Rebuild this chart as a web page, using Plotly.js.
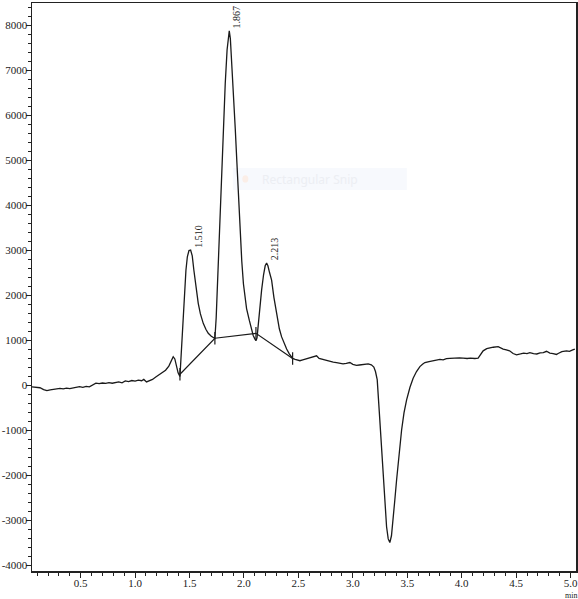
<!DOCTYPE html>
<html>
<head>
<meta charset="utf-8">
<script src="https://cdn.plot.ly/plotly-3.0.1.min.js"></script>
<style>html,body{margin:0;padding:0;background:#fff;}#chart{width:578px;height:599px;}</style>
</head>
<body>
<div id="chart"></div>
<script>
// Retention time (min) and detector signal
var times = [0.053,0.09,0.126,0.16,0.19,0.22,0.25,0.28,0.31,0.34,0.37,0.40,0.43,0.46,0.49,0.52,0.55,0.58,0.61,0.64,0.67,0.70,0.73,0.76,0.79,0.82,0.85,0.88,0.91,0.94,0.97,1.00,1.03,1.06,1.08,1.105,1.13,1.16,1.19,1.22,1.25,1.28,1.31,1.33,1.35,1.365,1.38,1.395,1.412,1.43,1.442,1.455,1.467,1.48,1.495,1.510,1.525,1.54,1.55,1.565,1.58,1.60,1.626,1.65,1.672,1.70,1.718,1.733,1.745,1.757,1.770,1.783,1.797,1.812,1.828,1.845,1.856,1.865,1.875,1.890,1.905,1.920,1.935,1.950,1.965,1.980,1.995,2.010,2.024,2.05,2.07,2.085,2.101,2.11,2.12,2.131,2.147,2.162,2.18,2.195,2.208,2.22,2.235,2.254,2.275,2.30,2.325,2.346,2.37,2.392,2.415,2.438,2.447,2.47,2.49,2.514,2.54,2.57,2.60,2.63,2.667,2.69,2.72,2.759,2.79,2.82,2.85,2.881,2.91,2.94,2.973,3.00,3.034,3.06,3.09,3.12,3.141,3.17,3.193,3.208,3.224,3.248,3.265,3.279,3.295,3.310,3.325,3.340,3.355,3.371,3.386,3.402,3.425,3.448,3.47,3.494,3.525,3.554,3.585,3.616,3.64,3.662,3.70,3.73,3.769,3.80,3.83,3.86,3.891,3.92,3.95,3.98,4.013,4.05,4.08,4.12,4.151,4.175,4.197,4.23,4.26,4.29,4.335,4.36,4.381,4.41,4.44,4.472,4.504,4.54,4.57,4.60,4.626,4.66,4.69,4.72,4.75,4.779,4.81,4.84,4.871,4.886,4.92,4.963,4.99,5.02,5.039];
var signal = [-40,-50,-60,-100,-125,-110,-95,-80,-75,-85,-70,-80,-60,-45,-35,-50,-30,-40,10,40,30,45,35,55,40,60,70,50,90,75,100,85,110,95,125,70,90,125,180,235,270,330,420,530,630,580,420,270,190,1000,1600,2100,2550,2850,2990,3000,2870,2550,2330,2050,1815,1580,1370,1240,1150,1085,1055,1035,1500,2300,3100,3900,4800,5800,6700,7450,7800,7870,7700,7100,6450,5700,4950,4150,3400,2750,2250,1900,1700,1430,1250,1100,1020,985,1050,1370,1750,2110,2450,2650,2710,2650,2500,2330,1950,1590,1250,1070,920,800,700,630,590,570,555,540,560,580,600,620,650,590,570,540,530,510,500,480,470,480,500,460,437,445,450,470,470,450,400,300,120,-780,-1500,-2110,-2700,-3150,-3420,-3500,-3350,-3000,-2550,-2110,-1500,-1000,-620,-330,-50,150,300,410,460,500,520,540,556,570,560,585,593,600,610,605,600,590,600,590,600,680,760,810,830,840,852,820,800,780,760,700,670,690,710,700,720,700,690,715,720,750,710,700,680,700,740,760,750,780,800];

// Integration baseline points
var baseTimes = [1.412, 1.733, 2.11, 2.447];
var baseValues = [240, 1040, 1150, 590];

// Labelled peaks
var peakTimes = [1.510, 1.867, 2.213];
var peakValues = [3000, 7870, 2710];
var peakLabels = ['1.510', '1.867', '2.213'];

// Axis ticks
var xTickVals = [0.5, 1.0, 1.5, 2.0, 2.5, 3.0, 3.5, 4.0, 4.5, 5.0];
var xTickText = ['0.5', '1.0', '1.5', '2.0', '2.5', '3.0', '3.5', '4.0', '4.5', '5.0'];
var yTickVals = [-4000, -3000, -2000, -1000, 0, 1000, 2000, 3000, 4000, 5000, 6000, 7000, 8000];
var yTickText = ['-4000', '-3000', '-2000', '-1000', '0', '1000', '2000', '3000', '4000', '5000', '6000', '7000', '8000'];

var serif = 'Liberation Serif, Times New Roman, serif';

var traces = [
  {
    x: times, y: signal, type: 'scatter', mode: 'lines',
    line: {color: '#1a1a1a', width: 1.3},
    hoverinfo: 'skip', showlegend: false
  },
  {
    x: baseTimes, y: baseValues, type: 'scatter', mode: 'lines+markers',
    line: {color: '#1a1a1a', width: 1.2},
    marker: {symbol: 'line-ns-open', size: 9, color: '#1a1a1a', line: {width: 1.2, color: '#1a1a1a'}},
    hoverinfo: 'skip', showlegend: false
  }
];

var annotations = peakTimes.map(function (t, i) {
  return {
    x: t, y: peakValues[i], xref: 'x', yref: 'y',
    text: peakLabels[i], textangle: -90, showarrow: false,
    xanchor: 'center', yanchor: 'middle', xshift: 7, yshift: 14,
    font: {family: serif, size: 10, color: '#222'}
  };
});
annotations.push({
  x: 5.0, y: -0.0435, xref: 'x', yref: 'paper', text: 'min', showarrow: false,
  xanchor: 'center', yanchor: 'middle', font: {family: serif, size: 8, color: '#222'}
});
annotations.push({
  x: 2.607, y: 4578, xref: 'x', yref: 'y', text: 'Rectangular Snip', showarrow: false,
  xanchor: 'center', yanchor: 'middle', font: {family: 'Noto Sans, sans-serif', size: 12, color: '#eceef3'}
});

var layout = {
  width: 578, height: 599,
  margin: {l: 32, r: 2, t: 3, b: 28},
  paper_bgcolor: '#ffffff', plot_bgcolor: '#ffffff',
  showlegend: false,
  xaxis: {
    range: [0.053, 5.05], tickmode: 'array', tickvals: xTickVals, ticktext: xTickText,
    ticks: 'outside', ticklen: 5, tickwidth: 1, tickcolor: '#222', ticklabelstandoff: -4,
    minor: {tick0: 0, dtick: 0.1, ticks: 'outside', ticklen: 3, tickwidth: 1, tickcolor: '#222', showgrid: false},
    showgrid: false, zeroline: false, showline: true, mirror: true, linecolor: '#222', linewidth: 1.5,
    tickfont: {family: serif, size: 11, color: '#222'}
  },
  yaxis: {
    range: [-4133, 8490], tickmode: 'array', tickvals: yTickVals, ticktext: yTickText,
    ticks: 'outside', ticklen: 5, tickwidth: 1, tickcolor: '#222', ticklabelstandoff: -4,
    minor: {tick0: 0, dtick: 200, ticks: 'outside', ticklen: 3, tickwidth: 1, tickcolor: '#222', showgrid: false},
    showgrid: false, zeroline: false, showline: true, mirror: true, linecolor: '#222', linewidth: 1.5,
    tickfont: {family: serif, size: 11, color: '#222'}
  },
  shapes: [
    {type: 'rect', xref: 'x', yref: 'y', x0: 1.898, x1: 3.496, y0: 4333, y1: 4822,
     fillcolor: '#f7f9fd', line: {width: 0}, layer: 'below'},
    {type: 'circle', xref: 'x', yref: 'y', x0: 1.985, x1: 2.04, y0: 4500, y1: 4660,
     fillcolor: '#fbeee7', line: {width: 0}, layer: 'below'}
  ],
  annotations: annotations
};

Plotly.newPlot('chart', traces, layout, {displayModeBar: false, staticPlot: true});
</script>
</body>
</html>
